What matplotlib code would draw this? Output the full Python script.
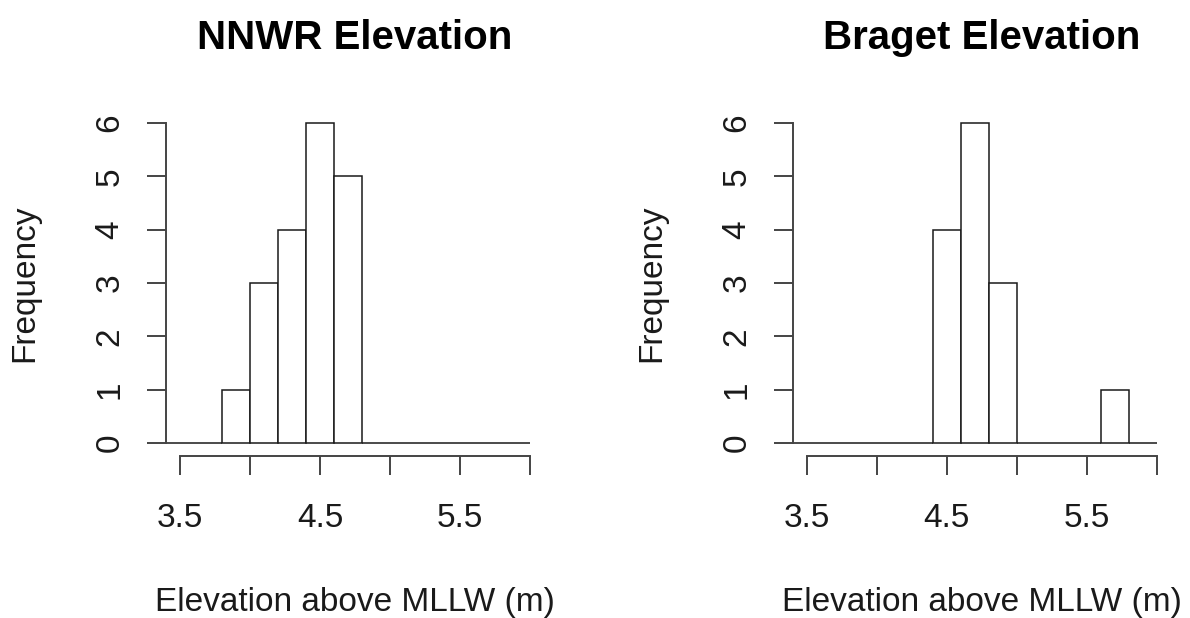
import numpy as np
import matplotlib
matplotlib.use("Agg")
import matplotlib.pyplot as plt

plt.rcParams['font.family'] = ['Liberation Sans', 'DejaVu Sans']

# histogram bins: 0.2 m wide, 3.4 to 6.0
bin_edges = np.round(np.arange(3.4, 6.0001, 0.2), 1)
nnwr_counts = [0, 0, 1, 3, 4, 6, 5, 0, 0, 0, 0, 0, 0]
braget_counts = [0, 0, 0, 0, 0, 4, 6, 3, 0, 0, 0, 1, 0]

x_ticks = [3.5, 4.0, 4.5, 5.0, 5.5, 6.0]
x_ticklabels = ['3.5', '', '4.5', '', '5.5', '']
y_ticks = [0, 1, 2, 3, 4, 5, 6]

W, H = 1190, 618
fig = plt.figure(figsize=(W / 100, H / 100), dpi=100)

line_col = '#444444'
text_col = '#1a1a1a'
px_per_x = 140.0
px_per_y = 53.33
xlim = (3.4, 6.1)
ylim = (-0.24, 6.24)


def draw_hist(left_px, counts, title):
    w = (xlim[1] - xlim[0]) * px_per_x
    h = (ylim[1] - ylim[0]) * px_per_y
    bottom_px = H - 455.8
    ax = fig.add_axes([left_px / W, bottom_px / H, w / W, h / H])
    ax.bar(bin_edges[:-1], counts, width=0.2, align='edge',
           facecolor='white', edgecolor='#1a1a1a', linewidth=1.1)
    ax.set_xlim(*xlim)
    ax.set_ylim(*ylim)

    for s in ['top', 'right']:
        ax.spines[s].set_visible(False)
    ax.spines['left'].set_bounds(0, 6)
    ax.spines['bottom'].set_bounds(3.5, 6.0)
    for s in ['left', 'bottom']:
        ax.spines[s].set_color(line_col)
        ax.spines[s].set_linewidth(1.4)

    ax.set_xticks(x_ticks)
    ax.set_xticklabels(x_ticklabels)
    ax.set_yticks(y_ticks)
    ax.tick_params(axis='both', direction='out', length=14, width=1.4,
                   color=line_col, labelsize=24, labelcolor=text_col)
    ax.tick_params(axis='x', pad=20)
    ax.tick_params(axis='y', pad=15, labelrotation=90)
    for lab in ax.get_yticklabels():
        lab.set_va('center')

    cx = (left_px + w / 2) / W
    fig.text(cx, 1 - 49 / H, title, ha='center', va='baseline',
             fontsize=29, fontweight='bold', color='black')
    fig.text(cx, 1 - 611.5 / H, 'Elevation above MLLW (m)', ha='center',
             va='baseline', fontsize=24, color=text_col)
    fig.text((left_px - 141) / W, (H - 443 + 3 * px_per_y) / H, 'Frequency',
             ha='center', va='center', rotation=90, fontsize=24,
             color=text_col)
    return ax


draw_hist(166, nnwr_counts, 'NNWR Elevation')
draw_hist(792.7, braget_counts, 'Braget Elevation')

fig.savefig('out.png', dpi=100)
